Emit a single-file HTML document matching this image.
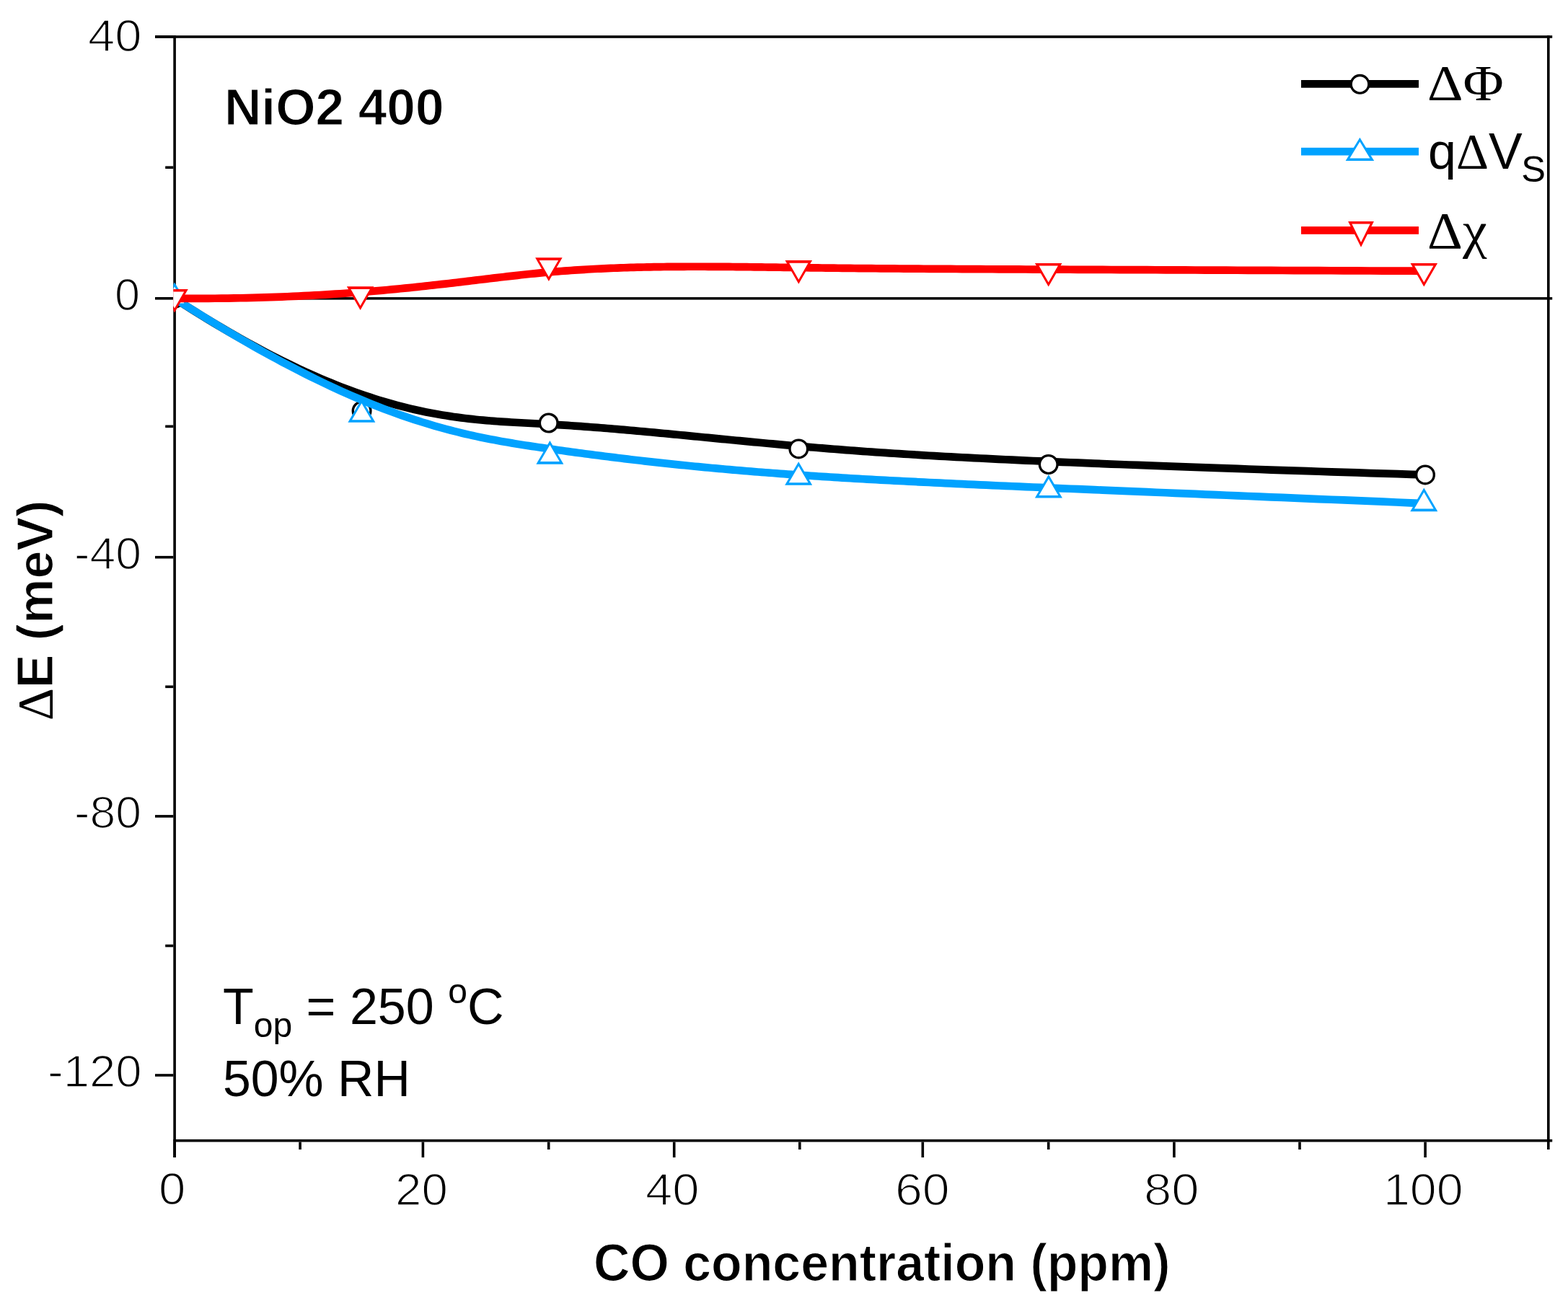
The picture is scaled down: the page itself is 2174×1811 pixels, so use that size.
<!DOCTYPE html>
<html><head><meta charset="utf-8"><title>NiO2 400 - CO concentration</title>
<style>html,body{margin:0;padding:0;background:#fff;}svg{display:block;}</style>
</head><body>
<svg width="2174" height="1811" viewBox="0 0 2174 1811">
<defs><clipPath id="plot"><rect x="240.3" y="49" width="1908.3" height="1534.5"/></clipPath></defs>
<rect width="2174" height="1811" fill="#fff"/>
<rect x="240.3" y="49.2" width="3.6" height="1555.8" fill="#000"/>
<rect x="215" y="49.2" width="1937.2" height="3.6" fill="#000"/>
<rect x="2145" y="49.2" width="3.6" height="1544.8" fill="#000"/>
<rect x="240.3" y="1579.9" width="1911.9" height="3.6" fill="#000"/>
<rect x="215" y="49.2" width="25.3" height="3.6" fill="#000"/>
<rect x="215" y="412" width="25.3" height="3.6" fill="#000"/>
<rect x="215" y="770.9" width="25.3" height="3.6" fill="#000"/>
<rect x="215" y="1130.1" width="25.3" height="3.6" fill="#000"/>
<rect x="215" y="1489.2" width="25.3" height="3.6" fill="#000"/>
<rect x="229.2" y="230.4" width="11.1" height="3.6" fill="#000"/>
<rect x="229.2" y="589.5" width="11.1" height="3.6" fill="#000"/>
<rect x="229.2" y="950.5" width="11.1" height="3.6" fill="#000"/>
<rect x="229.2" y="1309.7" width="11.1" height="3.6" fill="#000"/>
<rect x="240.3" y="1583.5" width="3.6" height="21.5" fill="#000"/>
<rect x="584.6" y="1583.5" width="3.6" height="21.5" fill="#000"/>
<rect x="932.9" y="1583.5" width="3.6" height="21.5" fill="#000"/>
<rect x="1277.5" y="1583.5" width="3.6" height="21.5" fill="#000"/>
<rect x="1626.1" y="1583.5" width="3.6" height="21.5" fill="#000"/>
<rect x="1974.3" y="1583.5" width="3.6" height="21.5" fill="#000"/>
<rect x="414.3" y="1583.5" width="3.6" height="10.5" fill="#000"/>
<rect x="758.9" y="1583.5" width="3.6" height="10.5" fill="#000"/>
<rect x="1107" y="1583.5" width="3.6" height="10.5" fill="#000"/>
<rect x="1451.9" y="1583.5" width="3.6" height="10.5" fill="#000"/>
<rect x="1800.2" y="1583.5" width="3.6" height="10.5" fill="#000"/>
<rect x="243.9" y="412.1" width="1908.3" height="3.5" fill="#000"/>
<g clip-path="url(#plot)"><path d="M242,413.8 L251.71,420.07 L261.31,426.18 L270.78,432.13 L280.13,437.93 L289.37,443.58 L298.49,449.08 L307.5,454.43 L316.4,459.63 L325.18,464.7 L333.85,469.61 L342.42,474.39 L350.88,479.04 L359.23,483.54 L367.48,487.92 L375.63,492.16 L383.67,496.28 L391.62,500.26 L399.47,504.13 L407.22,507.87 L414.87,511.49 L422.43,514.99 L429.9,518.37 L437.28,521.64 L444.57,524.8 L451.78,527.85 L458.89,530.79 L465.92,533.63 L472.87,536.36 L479.73,538.99 L486.52,541.52 L493.22,543.96 L499.85,546.3 L506.4,548.54 L512.88,550.7 L519.28,552.76 L525.61,554.74 L531.87,556.64 L538.06,558.45 L544.19,560.18 L550.25,561.83 L556.24,563.41 L562.17,564.91 L568.04,566.34 L573.85,567.71 L579.6,569 L585.29,570.23 L590.93,571.39 L596.52,572.5 L602.05,573.54 L607.52,574.53 L612.95,575.46 L618.33,576.34 L623.67,577.16 L628.95,577.94 L634.2,578.67 L639.4,579.36 L644.56,580.01 L649.68,580.61 L654.76,581.18 L659.81,581.71 L664.82,582.21 L669.79,582.67 L674.74,583.11 L679.65,583.51 L684.53,583.89 L689.39,584.25 L694.21,584.59 L699.02,584.91 L703.8,585.21 L708.56,585.49 L713.29,585.77 L718.01,586.03 L722.71,586.28 L727.39,586.53 L732.06,586.77 L736.72,587.01 L741.36,587.25 L745.99,587.49 L750.61,587.73 L755.23,587.98 L759.84,588.24 L764.44,588.51 L769.04,588.78 L773.63,589.06 L778.22,589.35 L782.8,589.64 L787.38,589.94 L791.96,590.25 L796.53,590.56 L801.1,590.88 L805.67,591.21 L810.23,591.54 L814.8,591.88 L819.36,592.22 L823.92,592.57 L828.49,592.93 L833.05,593.29 L837.61,593.65 L842.18,594.02 L846.75,594.4 L851.32,594.78 L855.89,595.16 L860.46,595.55 L865.04,595.95 L869.62,596.35 L874.21,596.75 L878.8,597.16 L883.39,597.57 L887.99,597.99 L892.6,598.41 L897.21,598.83 L901.83,599.25 L906.45,599.68 L911.09,600.12 L915.73,600.55 L920.38,600.99 L925.04,601.44 L929.71,601.88 L934.39,602.33 L939.07,602.78 L943.77,603.23 L948.48,603.69 L953.2,604.14 L957.94,604.6 L962.68,605.06 L967.44,605.53 L972.21,605.99 L976.99,606.46 L981.79,606.92 L986.6,607.39 L991.43,607.86 L996.27,608.33 L1001.13,608.8 L1006.01,609.28 L1010.9,609.75 L1015.8,610.22 L1020.73,610.7 L1025.67,611.17 L1030.63,611.65 L1035.61,612.12 L1040.61,612.6 L1045.63,613.07 L1050.67,613.54 L1055.72,614.02 L1060.8,614.49 L1065.9,614.96 L1071.02,615.43 L1076.17,615.9 L1081.33,616.37 L1086.52,616.84 L1091.74,617.31 L1096.97,617.77 L1102.23,618.24 L1107.52,618.7 L1112.83,619.16 L1118.16,619.61 L1123.52,620.07 L1128.91,620.52 L1134.32,620.98 L1139.76,621.42 L1145.23,621.87 L1150.74,622.31 L1156.28,622.76 L1161.86,623.19 L1167.49,623.63 L1173.17,624.07 L1178.9,624.5 L1184.68,624.93 L1190.53,625.36 L1196.44,625.79 L1202.42,626.22 L1208.47,626.65 L1214.59,627.07 L1220.8,627.5 L1227.08,627.92 L1233.46,628.35 L1239.92,628.77 L1246.48,629.19 L1253.14,629.61 L1259.9,630.03 L1266.76,630.45 L1273.74,630.87 L1280.82,631.29 L1288.03,631.72 L1295.36,632.14 L1302.81,632.56 L1310.39,632.98 L1318.1,633.4 L1325.95,633.83 L1333.93,634.25 L1342.07,634.68 L1350.35,635.1 L1358.78,635.53 L1367.36,635.96 L1376.11,636.39 L1385.02,636.82 L1394.09,637.25 L1403.34,637.69 L1412.75,638.12 L1422.35,638.56 L1432.13,639 L1442.1,639.45 L1452.25,639.89 L1462.6,640.34 L1473.14,640.79 L1483.89,641.24 L1494.84,641.7 L1505.99,642.16 L1517.36,642.62 L1528.95,643.08 L1540.76,643.55 L1552.79,644.02 L1565.04,644.49 L1577.53,644.97 L1590.25,645.45 L1603.22,645.94 L1616.42,646.43 L1629.87,646.92 L1643.57,647.42 L1657.53,647.92 L1671.74,648.43 L1686.22,648.94 L1700.96,649.45 L1715.97,649.97 L1731.25,650.5 L1746.81,651.02 L1762.65,651.56 L1778.77,652.1 L1795.19,652.64 L1811.89,653.19 L1828.89,653.75 L1846.19,654.31 L1863.79,654.87 L1881.71,655.45 L1899.93,656.03 L1918.46,656.61 L1937.32,657.2 L1956.5,657.8 L1976,658.4" fill="none" stroke="#000" stroke-width="10.7" stroke-linejoin="round"/><circle cx="242" cy="413.8" r="12.32" fill="#fff" stroke="#000" stroke-width="3.35"/><circle cx="501.6" cy="569.7" r="12.32" fill="#fff" stroke="#000" stroke-width="3.35"/><circle cx="760.7" cy="586.5" r="12.32" fill="#fff" stroke="#000" stroke-width="3.35"/><circle cx="1107.3" cy="622.4" r="12.32" fill="#fff" stroke="#000" stroke-width="3.35"/><circle cx="1453.7" cy="644" r="12.32" fill="#fff" stroke="#000" stroke-width="3.35"/><circle cx="1976" cy="658.4" r="12.32" fill="#fff" stroke="#000" stroke-width="3.35"/><path d="M242,413.8 L251.71,420 L261.29,426.07 L270.76,432.01 L280.11,437.81 L289.35,443.49 L298.47,449.04 L307.47,454.47 L316.37,459.77 L325.15,464.94 L333.83,470 L342.4,474.94 L350.86,479.76 L359.22,484.47 L367.47,489.06 L375.62,493.54 L383.67,497.9 L391.63,502.16 L399.48,506.31 L407.24,510.36 L414.91,514.3 L422.48,518.14 L429.96,521.87 L437.35,525.51 L444.65,529.05 L451.87,532.5 L459,535.84 L466.04,539.1 L473,542.26 L479.88,545.34 L486.68,548.33 L493.4,551.23 L500.04,554.04 L506.61,556.78 L513.1,559.43 L519.52,562 L525.87,564.49 L532.15,566.91 L538.35,569.25 L544.5,571.52 L550.57,573.72 L556.58,575.84 L562.53,577.9 L568.42,579.89 L574.25,581.82 L580.02,583.68 L585.73,585.48 L591.38,587.22 L596.99,588.9 L602.53,590.53 L608.03,592.1 L613.48,593.62 L618.88,595.08 L624.23,596.49 L629.53,597.86 L634.8,599.18 L640.01,600.45 L645.19,601.68 L650.33,602.86 L655.43,604.01 L660.49,605.11 L665.52,606.18 L670.51,607.21 L675.47,608.21 L680.39,609.18 L685.29,610.11 L690.16,611.02 L695.01,611.9 L699.82,612.75 L704.62,613.58 L709.39,614.39 L714.13,615.17 L718.86,615.94 L723.57,616.68 L728.27,617.42 L732.95,618.13 L737.61,618.84 L742.26,619.53 L746.9,620.21 L751.53,620.89 L756.16,621.56 L760.77,622.22 L765.38,622.88 L769.98,623.53 L774.58,624.18 L779.17,624.82 L783.75,625.46 L788.34,626.09 L792.91,626.72 L797.49,627.34 L802.06,627.96 L806.62,628.57 L811.19,629.18 L815.75,629.78 L820.31,630.38 L824.87,630.97 L829.43,631.56 L833.99,632.15 L838.55,632.73 L843.11,633.3 L847.67,633.87 L852.24,634.43 L856.8,635 L861.37,635.55 L865.94,636.1 L870.51,636.65 L875.09,637.19 L879.67,637.73 L884.26,638.27 L888.85,638.8 L893.45,639.32 L898.05,639.84 L902.66,640.36 L907.28,640.87 L911.9,641.38 L916.53,641.88 L921.17,642.38 L925.82,642.88 L930.47,643.37 L935.14,643.86 L939.82,644.34 L944.5,644.82 L949.2,645.3 L953.91,645.77 L958.63,646.24 L963.36,646.71 L968.11,647.17 L972.87,647.63 L977.64,648.08 L982.42,648.53 L987.22,648.97 L992.04,649.42 L996.87,649.86 L1001.71,650.29 L1006.57,650.72 L1011.45,651.15 L1016.34,651.58 L1021.26,652 L1026.19,652.42 L1031.13,652.83 L1036.1,653.24 L1041.09,653.65 L1046.09,654.06 L1051.12,654.46 L1056.16,654.86 L1061.23,655.25 L1066.32,655.64 L1071.43,656.03 L1076.56,656.42 L1081.71,656.8 L1086.89,657.18 L1092.09,657.56 L1097.32,657.93 L1102.57,658.31 L1107.84,658.67 L1113.14,659.04 L1118.47,659.4 L1123.82,659.76 L1129.2,660.12 L1134.6,660.47 L1140.03,660.83 L1145.5,661.18 L1150.99,661.52 L1156.53,661.87 L1162.1,662.21 L1167.72,662.55 L1173.39,662.89 L1179.12,663.23 L1184.9,663.57 L1190.74,663.91 L1196.64,664.24 L1202.61,664.58 L1208.66,664.91 L1214.78,665.25 L1220.98,665.59 L1227.26,665.92 L1233.63,666.26 L1240.08,666.6 L1246.64,666.94 L1253.29,667.28 L1260.04,667.62 L1266.9,667.96 L1273.87,668.31 L1280.95,668.66 L1288.15,669.01 L1295.47,669.36 L1302.92,669.71 L1310.49,670.07 L1318.2,670.44 L1326.04,670.8 L1334.02,671.17 L1342.14,671.54 L1350.41,671.92 L1358.84,672.3 L1367.42,672.68 L1376.15,673.07 L1385.05,673.47 L1394.12,673.87 L1403.35,674.28 L1412.76,674.69 L1422.35,675.1 L1432.11,675.53 L1442.07,675.95 L1452.21,676.39 L1462.54,676.83 L1473.07,677.28 L1483.8,677.74 L1494.74,678.2 L1505.88,678.67 L1517.24,679.15 L1528.81,679.63 L1540.6,680.13 L1552.61,680.63 L1564.85,681.14 L1577.32,681.66 L1590.02,682.19 L1602.96,682.73 L1616.14,683.27 L1629.57,683.83 L1643.25,684.4 L1657.18,684.97 L1671.37,685.56 L1685.82,686.15 L1700.53,686.76 L1715.51,687.38 L1730.77,688.01 L1746.3,688.65 L1762.11,689.3 L1778.2,689.97 L1794.58,690.64 L1811.25,691.33 L1828.21,692.03 L1845.48,692.74 L1863.04,693.47 L1880.92,694.21 L1899.1,694.96 L1917.59,695.72 L1936.41,696.5 L1955.54,697.29 L1975,698.1" fill="none" stroke="#00a2ff" stroke-width="10.7" stroke-linejoin="round"/><polygon points="242,391.5 261,424.1 223,424.1" fill="#00a2ff"/><polygon points="242,397.46 255.42,420.48 228.58,420.48" fill="#fff"/><polygon points="501.4,553.2 520.4,585.8 482.4,585.8" fill="#00a2ff"/><polygon points="501.4,559.16 514.82,582.18 487.98,582.18" fill="#fff"/><polygon points="762.4,611.1 781.4,643.7 743.4,643.7" fill="#00a2ff"/><polygon points="762.4,617.06 775.82,640.08 748.98,640.08" fill="#fff"/><polygon points="1107.2,640.2 1126.2,672.8 1088.2,672.8" fill="#00a2ff"/><polygon points="1107.2,646.16 1120.62,669.18 1093.78,669.18" fill="#fff"/><polygon points="1453.9,658 1472.9,690.6 1434.9,690.6" fill="#00a2ff"/><polygon points="1453.9,663.96 1467.32,686.98 1440.48,686.98" fill="#fff"/><polygon points="1974.3,676.6 1993.3,709.2 1955.3,709.2" fill="#00a2ff"/><polygon points="1974.3,682.56 1987.72,705.58 1960.88,705.58" fill="#fff"/><path d="M242,413.8 L251.64,413.85 L261.16,413.88 L270.57,413.89 L279.86,413.87 L289.03,413.82 L298.09,413.75 L307.04,413.66 L315.88,413.54 L324.62,413.41 L333.24,413.25 L341.76,413.07 L350.17,412.87 L358.48,412.64 L366.69,412.4 L374.8,412.14 L382.81,411.86 L390.72,411.57 L398.54,411.25 L406.26,410.92 L413.89,410.57 L421.43,410.2 L428.88,409.82 L436.24,409.43 L443.51,409.02 L450.69,408.59 L457.8,408.15 L464.81,407.7 L471.75,407.23 L478.6,406.76 L485.38,406.27 L492.08,405.77 L498.7,405.26 L505.25,404.74 L511.72,404.2 L518.13,403.66 L524.46,403.12 L530.72,402.56 L536.92,401.99 L543.05,401.42 L549.11,400.84 L555.12,400.26 L561.05,399.67 L566.93,399.07 L572.75,398.47 L578.52,397.87 L584.22,397.26 L589.87,396.65 L595.47,396.04 L601.02,395.42 L606.51,394.8 L611.96,394.18 L617.36,393.57 L622.71,392.95 L628.01,392.33 L633.28,391.71 L638.5,391.09 L643.68,390.48 L648.82,389.86 L653.92,389.25 L658.99,388.65 L664.02,388.04 L669.02,387.44 L673.99,386.85 L678.92,386.26 L683.83,385.68 L688.7,385.1 L693.56,384.53 L698.38,383.97 L703.18,383.42 L707.96,382.87 L712.72,382.34 L717.46,381.81 L722.19,381.29 L726.89,380.79 L731.58,380.29 L736.26,379.8 L740.92,379.33 L745.57,378.87 L750.22,378.42 L754.85,377.99 L759.48,377.57 L764.1,377.16 L768.72,376.77 L773.33,376.39 L777.93,376.02 L782.53,375.67 L787.13,375.32 L791.72,374.99 L796.3,374.68 L800.89,374.37 L805.47,374.08 L810.05,373.79 L814.63,373.52 L819.2,373.26 L823.78,373.01 L828.35,372.78 L832.93,372.55 L837.5,372.33 L842.08,372.13 L846.66,371.93 L851.23,371.74 L855.81,371.57 L860.4,371.4 L864.98,371.24 L869.57,371.09 L874.17,370.95 L878.76,370.82 L883.36,370.7 L887.97,370.59 L892.58,370.48 L897.2,370.38 L901.83,370.29 L906.46,370.21 L911.1,370.14 L915.74,370.07 L920.4,370.01 L925.06,369.95 L929.73,369.91 L934.41,369.87 L939.11,369.83 L943.81,369.81 L948.52,369.78 L953.24,369.77 L957.98,369.76 L962.73,369.75 L967.49,369.75 L972.26,369.76 L977.04,369.77 L981.84,369.78 L986.66,369.8 L991.48,369.83 L996.33,369.85 L1001.19,369.88 L1006.06,369.92 L1010.95,369.96 L1015.86,370 L1020.78,370.04 L1025.73,370.09 L1030.69,370.14 L1035.67,370.2 L1040.66,370.25 L1045.68,370.31 L1050.72,370.37 L1055.78,370.43 L1060.85,370.49 L1065.95,370.56 L1071.07,370.62 L1076.22,370.69 L1081.38,370.76 L1086.57,370.83 L1091.78,370.9 L1097.01,370.97 L1102.27,371.04 L1107.56,371.11 L1112.86,371.17 L1118.2,371.24 L1123.56,371.31 L1128.94,371.38 L1134.36,371.44 L1139.8,371.51 L1145.27,371.57 L1150.77,371.64 L1156.31,371.7 L1161.89,371.76 L1167.52,371.82 L1173.19,371.88 L1178.92,371.93 L1184.71,371.99 L1190.55,372.04 L1196.46,372.1 L1202.44,372.15 L1208.48,372.2 L1214.61,372.26 L1220.81,372.31 L1227.09,372.36 L1233.47,372.41 L1239.93,372.46 L1246.48,372.51 L1253.14,372.55 L1259.89,372.6 L1266.76,372.65 L1273.73,372.69 L1280.81,372.74 L1288.01,372.79 L1295.33,372.83 L1302.78,372.88 L1310.35,372.92 L1318.06,372.97 L1325.9,373.01 L1333.89,373.05 L1342.01,373.1 L1350.28,373.14 L1358.71,373.19 L1367.29,373.23 L1376.02,373.27 L1384.92,373.32 L1393.99,373.36 L1403.23,373.41 L1412.64,373.45 L1422.22,373.5 L1431.99,373.54 L1441.95,373.59 L1452.09,373.63 L1462.42,373.68 L1472.95,373.72 L1483.69,373.77 L1494.62,373.82 L1505.77,373.86 L1517.12,373.91 L1528.69,373.96 L1540.48,374.01 L1552.5,374.06 L1564.74,374.11 L1577.21,374.16 L1589.91,374.22 L1602.86,374.27 L1616.04,374.32 L1629.47,374.38 L1643.15,374.43 L1657.09,374.49 L1671.28,374.55 L1685.73,374.61 L1700.45,374.67 L1715.43,374.73 L1730.69,374.79 L1746.22,374.85 L1762.04,374.92 L1778.13,374.98 L1794.52,375.05 L1811.19,375.12 L1828.16,375.19 L1845.43,375.26 L1863,375.33 L1880.88,375.41 L1899.07,375.48 L1917.57,375.56 L1936.39,375.64 L1955.53,375.72 L1975,375.8" fill="none" stroke="#ff0000" stroke-width="10.7" stroke-linejoin="round"/><polygon points="223.25,401 260.75,401 242,433.6" fill="#ff0000"/><polygon points="228.79,404.62 255.21,404.62 242,427.58" fill="#fff"/><polygon points="480.85,397.3 518.35,397.3 499.6,429.9" fill="#ff0000"/><polygon points="486.39,400.92 512.81,400.92 499.6,423.88" fill="#fff"/><polygon points="742.15,357.3 779.65,357.3 760.9,389.9" fill="#ff0000"/><polygon points="747.69,360.92 774.11,360.92 760.9,383.88" fill="#fff"/><polygon points="1088.55,361.1 1126.05,361.1 1107.3,393.7" fill="#ff0000"/><polygon points="1094.09,364.72 1120.51,364.72 1107.3,387.68" fill="#fff"/><polygon points="1434.95,364.9 1472.45,364.9 1453.7,397.5" fill="#ff0000"/><polygon points="1440.49,368.52 1466.91,368.52 1453.7,391.48" fill="#fff"/><polygon points="1955.55,365 1993.05,365 1974.3,397.6" fill="#ff0000"/><polygon points="1961.09,368.62 1987.51,368.62 1974.3,391.58" fill="#fff"/></g>
<rect x="1804" y="111" width="163" height="10.7" fill="#000"/>
<circle cx="1885.5" cy="116.8" r="12.32" fill="#fff" stroke="#000" stroke-width="3.35"/>
<rect x="1804" y="204.8" width="163" height="10.7" fill="#00a2ff"/>
<polygon points="1885.4,190.7 1905.15,223 1865.65,223" fill="#00a2ff"/><polygon points="1885.4,196.45 1899.42,219.38 1871.38,219.38" fill="#fff"/>
<rect x="1804" y="314.1" width="163" height="10.7" fill="#ff0000"/>
<polygon points="1869.15,307 1904.85,307 1887,342.7" fill="#ff0000"/><polygon points="1874.31,310.62 1899.69,310.62 1887,335.99" fill="#fff"/>
<g fill="#000">
<text x="122.0" y="70.7" font-family='"Liberation Sans", Arial, Helvetica, sans-serif' font-size="62.8" font-weight="normal" textLength="74.5" lengthAdjust="spacingAndGlyphs" stroke="#fff" stroke-width="1.6">40</text>
<text x="159.0" y="429.7" font-family='"Liberation Sans", Arial, Helvetica, sans-serif' font-size="62.8" font-weight="normal" textLength="35.1" lengthAdjust="spacingAndGlyphs" stroke="#fff" stroke-width="1.6">0</text>
<text x="103.0" y="788.8" font-family='"Liberation Sans", Arial, Helvetica, sans-serif' font-size="62.8" font-weight="normal" textLength="93.0" lengthAdjust="spacingAndGlyphs" stroke="#fff" stroke-width="1.6">-40</text>
<text x="103.0" y="1147.6" font-family='"Liberation Sans", Arial, Helvetica, sans-serif' font-size="62.8" font-weight="normal" textLength="93.0" lengthAdjust="spacingAndGlyphs" stroke="#fff" stroke-width="1.6">-80</text>
<text x="66.0" y="1506.9" font-family='"Liberation Sans", Arial, Helvetica, sans-serif' font-size="62.8" font-weight="normal" textLength="130.6" lengthAdjust="spacingAndGlyphs" stroke="#fff" stroke-width="1.6">-120</text>
<text x="220.0" y="1670.0" font-family='"Liberation Sans", Arial, Helvetica, sans-serif' font-size="62.8" font-weight="normal" textLength="37.4" lengthAdjust="spacingAndGlyphs" stroke="#fff" stroke-width="1.6">0</text>
<text x="548.0" y="1670.5" font-family='"Liberation Sans", Arial, Helvetica, sans-serif' font-size="62.8" font-weight="normal" textLength="72.8" lengthAdjust="spacingAndGlyphs" stroke="#fff" stroke-width="1.6">20</text>
<text x="895.0" y="1670.5" font-family='"Liberation Sans", Arial, Helvetica, sans-serif' font-size="62.8" font-weight="normal" textLength="74.6" lengthAdjust="spacingAndGlyphs" stroke="#fff" stroke-width="1.6">40</text>
<text x="1241.0" y="1670.5" font-family='"Liberation Sans", Arial, Helvetica, sans-serif' font-size="62.8" font-weight="normal" textLength="75.7" lengthAdjust="spacingAndGlyphs" stroke="#fff" stroke-width="1.6">60</text>
<text x="1586.0" y="1670.5" font-family='"Liberation Sans", Arial, Helvetica, sans-serif' font-size="62.8" font-weight="normal" textLength="76.6" lengthAdjust="spacingAndGlyphs" stroke="#fff" stroke-width="1.6">80</text>
<text x="1918.0" y="1670.5" font-family='"Liberation Sans", Arial, Helvetica, sans-serif' font-size="62.8" font-weight="normal" textLength="110.6" lengthAdjust="spacingAndGlyphs" stroke="#fff" stroke-width="1.6">100</text>
<text x="823.0" y="1776.4" font-family='"Liberation Sans", Arial, Helvetica, sans-serif' font-size="72.2" font-weight="bold" textLength="799.4" lengthAdjust="spacingAndGlyphs" stroke="#fff" stroke-width="1.2">CO concentration (ppm)</text>
<text x="311.0" y="172.6" font-family='"Liberation Sans", Arial, Helvetica, sans-serif' font-size="70.9" font-weight="bold" textLength="304.5" lengthAdjust="spacingAndGlyphs" stroke="#fff" stroke-width="1.2">NiO2 400</text>
<text x="309.0" y="1520.2" font-family='"Liberation Sans", Arial, Helvetica, sans-serif' font-size="70.2" font-weight="normal" textLength="259.8" lengthAdjust="spacingAndGlyphs">50% RH</text>
<text x="1979.0" y="138.7" font-family='"Liberation Serif", "Times New Roman", serif' font-size="70.3" font-weight="normal" textLength="105.7" lengthAdjust="spacingAndGlyphs">ΔΦ</text>
<text x="1979.0" y="343.7" font-family='"Liberation Serif", "Times New Roman", serif' font-size="71.4" font-weight="normal" textLength="82.7" lengthAdjust="spacingAndGlyphs">Δχ</text>
<text transform="translate(72.8,846.5) rotate(-90)" text-anchor="middle" font-size="70"><tspan font-family='"Liberation Serif", "Times New Roman", serif'>Δ</tspan><tspan font-family='"Liberation Sans", Arial, Helvetica, sans-serif' font-weight="bold" stroke="#fff" stroke-width="1.2">E (meV)</tspan></text>
<text x="309" y="1419.9" font-family='"Liberation Sans", Arial, Helvetica, sans-serif' font-size="70">T<tspan font-size="48" dy="18">op</tspan><tspan dy="-18"> = 250 </tspan><tspan font-size="48" dy="-29">o</tspan><tspan dy="29">C</tspan></text>
<text x="1980" y="233.8" font-size="70" font-family='"Liberation Sans", Arial, Helvetica, sans-serif'>q<tspan font-family='"Liberation Serif", "Times New Roman", serif'>Δ</tspan>V<tspan font-size="50.5" dx="-1.5" dy="18">S</tspan></text>
</g>
</svg>
</body></html>
